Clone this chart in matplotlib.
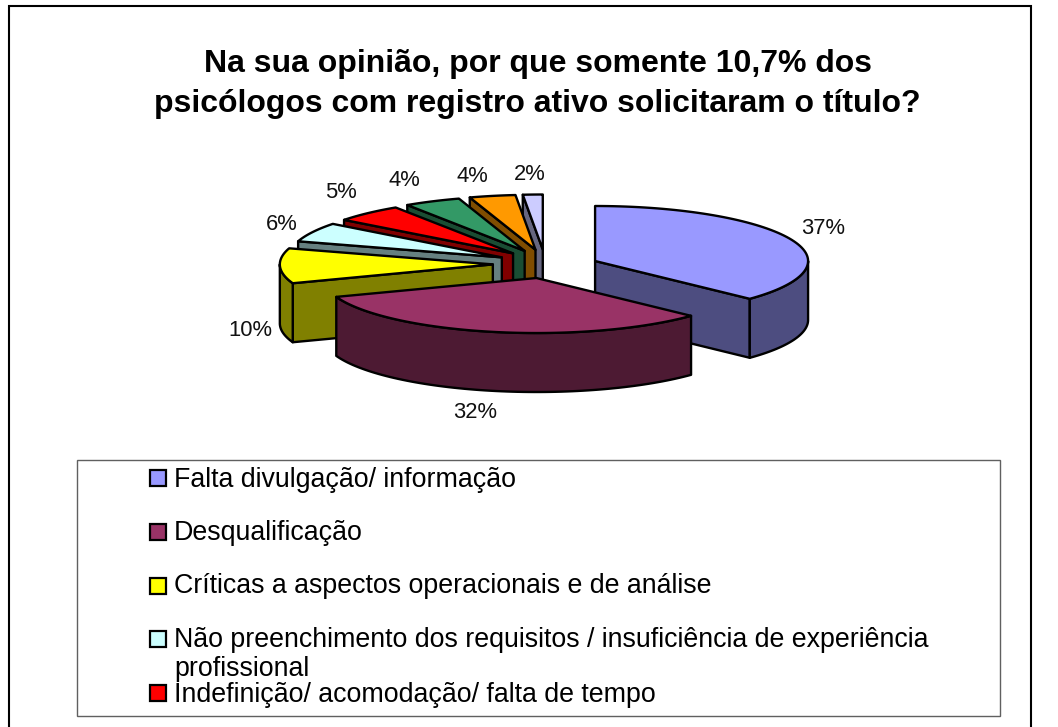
import numpy as np
import matplotlib
matplotlib.use("Agg")
import matplotlib.pyplot as plt
from matplotlib.patches import Polygon, Rectangle

plt.rcParams['font.family'] = ['Liberation Sans', 'DejaVu Sans']

title_lines = ["Na sua opinião, por que somente 10,7% dos",
               "psicólogos com registro ativo solicitaram o título?"]
values = [37.1, 32.4, 10.3, 5.7, 5.3, 4.3, 3.5, 1.5]
pct_labels = ["37%", "32%", "10%", "6%", "5%", "4%", "4%", "2%"]
legend_labels = ["Falta divulgação/ informação",
                 "Desqualificação",
                 "Críticas a aspectos operacionais e de análise",
                 "Não preenchimento dos requisitos / insuficiência de experiência",
                 "Indefinição/ acomodação/ falta de tempo"]
legend_wrap = "profissional"

top_colors = ["#9999FF", "#993366", "#FFFF00", "#CCFFFF", "#FF0000", "#339966", "#FF9900", "#CCCCFF"]
side_colors = ["#4D4D80", "#4D1A33", "#808000", "#668080", "#800000", "#1A4D33", "#804D00", "#666680"]
explode_x = [0.256, 0.2, 0.245, 0.228, 0.22, 0.22, 0.22, 0.22]
explode_y = [0.115, 0.217, 0.22, 0.22, 0.22, 0.22, 0.22, 0.22]

# layout, in pixels
W, H = 1058, 727
cx, cy, rx, ry, depth, ky = 545, 264, 213, 55, 59, 66
draw_order = [7, 6, 5, 4, 3, 2, 0, 1]
label_pos = [(823, 229), (475, 412), (250, 330), (282, 224), (341, 192), (404, 181), (472, 177), (530, 175)]
LW = 1.7

fig = plt.figure(figsize=(W / 100, H / 100), dpi=100, facecolor='white')
ax = fig.add_axes([0, 0, 1, 1])
ax.set_xlim(0, W)
ax.set_ylim(H, 0)
ax.axis('off')

# outer frame
ax.add_patch(Rectangle((8.5, 5.5), 1022, 740, fc='white', ec='black', lw=1.5, zorder=0))

ax.text(538, 72, title_lines[0], ha='center', va='baseline', fontsize=23, fontweight='bold')
ax.text(537, 112, title_lines[1], ha='center', va='baseline', fontsize=23, fontweight='bold')

edges = np.cumsum([0] + values) / sum(values) * 2 * np.pi
z = 1
for i in draw_order:
    a0, a1 = edges[i], edges[i + 1]
    mid = (a0 + a1) / 2
    ax0 = cx + explode_x[i] * rx * np.sin(mid)
    ay0 = cy - explode_y[i] * ky * np.cos(mid)
    th = np.linspace(a0, a1, 80)
    arc = np.column_stack([ax0 + rx * np.sin(th), ay0 - ry * np.cos(th)])
    apex = np.array([ax0, ay0])
    d = np.array([0, depth])
    # cut faces: only those turned towards the viewer
    if np.sin(a0) < 0:
        p = arc[0]
        ax.add_patch(Polygon([apex, p, p + d, apex + d], closed=True, fc=side_colors[i], ec='black', lw=LW, zorder=z, joinstyle='round'))
    if np.sin(a1) > 0:
        p = arc[-1]
        ax.add_patch(Polygon([apex, p, p + d, apex + d], closed=True, fc=side_colors[i], ec='black', lw=LW, zorder=z, joinstyle='round'))
    # outer wall on the front half
    lo, hi = max(a0, np.pi / 2), min(a1, 3 * np.pi / 2)
    if hi > lo:
        tw = np.linspace(lo, hi, 80)
        wall = np.column_stack([ax0 + rx * np.sin(tw), ay0 - ry * np.cos(tw)])
        ax.add_patch(Polygon(np.vstack([wall, (wall + d)[::-1]]), closed=True, fc=side_colors[i], ec='black', lw=LW, zorder=z, joinstyle='round'))
    # top face
    ax.add_patch(Polygon(np.vstack([apex, arc]), closed=True, fc=top_colors[i], ec='black', lw=LW, zorder=z, joinstyle='round'))
    z += 1

for (x, y), s in zip(label_pos, pct_labels):
    ax.text(x, y, s, ha='center', va='center', fontsize=15.8, color='#111111', zorder=20)

# legend
ax.add_patch(Rectangle((77, 459.5), 922.5, 256.5, fc='white', ec='#606060', lw=1.0, zorder=z))
marker_y = [478, 532, 585.5, 639, 693]
text_base = [487, 540, 593, 647, 702]
for my, ty, s, c in zip(marker_y, text_base, legend_labels, top_colors):
    ax.add_patch(Rectangle((150, my - 8), 16, 16, fc=c, ec='black', lw=1.6, zorder=z + 1))
    ax.text(174, ty, s, ha='left', va='baseline', fontsize=19.3, zorder=z + 2)
ax.text(174, 676, legend_wrap, ha='left', va='baseline', fontsize=19.3, zorder=z + 2)

fig.savefig("out.png", dpi=100)
